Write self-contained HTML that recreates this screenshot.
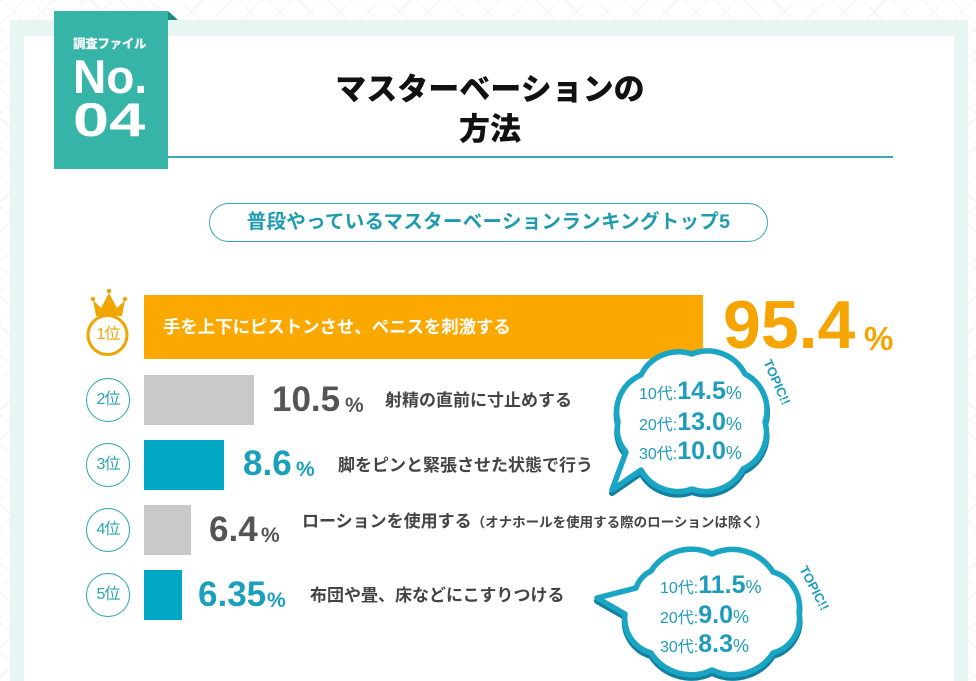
<!DOCTYPE html>
<html><head><meta charset="utf-8">
<style>
*{margin:0;padding:0;box-sizing:border-box}
html,body{width:976px;height:681px;overflow:hidden}
body{position:relative;background:#fff;
background-image:repeating-linear-gradient(45deg,transparent 0,transparent 20px,#eef3f3 20px,#eef3f3 21px),repeating-linear-gradient(-45deg,transparent 0,transparent 20px,#eef3f3 20px,#eef3f3 21px);
font-family:"Liberation Sans","Noto Sans CJK JP",sans-serif}
.a{position:absolute}
.jp{font-family:"Liberation Sans","Noto Sans CJK JP",sans-serif;white-space:nowrap}
.num{font-family:"Liberation Sans",sans-serif;font-weight:bold;white-space:nowrap;line-height:1}
.rk{position:absolute;width:44px;height:44px;border:1px solid #2aa3b5;border-radius:50%;color:#2aa3b5;font-size:16px;text-align:center;line-height:42px;background:#fff;letter-spacing:-1px}
.desc{position:absolute;font-size:17px;font-weight:bold;color:#444;white-space:nowrap;line-height:1}
</style></head><body>
<div class="a" style="left:10px;top:20px;width:958px;height:670px;background:#e7f5f3"></div>
<div class="a" style="left:24px;top:36px;width:930px;height:660px;background:#fff"></div>
<!-- teal label -->
<div class="a" style="left:54px;top:11px;width:114px;height:158px;background:#37b4a8"></div>
<svg class="a" style="left:160px;top:5px" width="24" height="20"><polygon points="8,6 18,15 8,15" fill="#1f8a80"/></svg>
<div class="a jp" style="left:73px;top:38px;font-size:12.5px;font-weight:900;color:#fff;line-height:1;letter-spacing:-0.3px">調査ファイル</div>
<div class="a num" style="left:73px;top:53px;font-size:47px;color:#fff;transform:scaleX(0.98);transform-origin:left top">No.</div>
<div class="a num" style="left:73px;top:96px;font-size:47px;color:#fff;transform:scaleX(1.38);transform-origin:left top">04</div>
<!-- title -->
<div class="a jp" style="left:0;width:980px;top:70px;text-align:center;font-size:31px;font-weight:900;color:#111;line-height:40px">マスターベーションの<br>方法</div>
<div class="a" style="left:168px;top:156px;width:725px;height:2px;background:#3aa9b0"></div>
<!-- pill -->
<div class="a jp" style="left:209px;top:203px;width:559px;height:39px;border:1.5px solid #3aa5b5;border-radius:20px;text-align:center;line-height:36px;font-size:19.5px;font-weight:bold;color:#1f9bb0;letter-spacing:0.3px">普段やっているマスターベーションランキングトップ5</div>

<!-- row 1 -->
<svg class="a" style="left:80px;top:284px" width="60" height="80">
<polygon points="13,16 21,24 29,9 37,24 45,16 42,32 16,32" fill="#f0a500"/>
<circle cx="13" cy="15" r="2.2" fill="#f0a500"/><circle cx="29" cy="7" r="2.2" fill="#f0a500"/><circle cx="45" cy="15" r="2.2" fill="#f0a500"/>
<circle cx="27.5" cy="51" r="19.5" fill="#fff" stroke="#f0a500" stroke-width="3"/>
</svg>
<div class="a jp" style="left:87px;top:325px;width:42px;text-align:center;font-size:16px;color:#f0a500;line-height:20px;letter-spacing:-1px">1位</div>
<div class="a" style="left:144px;top:295px;width:559px;height:64px;background:#fba800"></div>
<div class="a jp" style="left:163px;top:317px;font-size:17.4px;font-weight:bold;color:#fff;line-height:20px">手を上下にピストンさせ、ペニスを刺激する</div>
<div class="a num" style="left:723px;top:291px;font-size:68px;color:#f6a500">95.4</div>
<div class="a num" style="left:864px;top:322px;font-size:33px;color:#f6a500">%</div>

<!-- row 2 -->
<div class="rk" style="left:86px;top:378px">2位</div>
<div class="a" style="left:144px;top:375px;width:110px;height:50px;background:#c9c9c9"></div>
<div class="a num" style="left:272px;top:382px;font-size:35px;color:#555">10.5</div>
<div class="a num" style="left:345px;top:395px;font-size:21px;color:#555">%</div>
<div class="desc" style="left:385px;top:392px">射精の直前に寸止めする</div>

<!-- row 3 -->
<div class="rk" style="left:86px;top:443px">3位</div>
<div class="a" style="left:144px;top:440px;width:80px;height:50px;background:#00a8c6"></div>
<div class="a num" style="left:243px;top:446px;font-size:35px;color:#1a9fbd">8.6</div>
<div class="a num" style="left:296px;top:459px;font-size:21px;color:#1a9fbd">%</div>
<div class="desc" style="left:338px;top:457px">脚をピンと緊張させた状態で行う</div>

<!-- row 4 -->
<div class="rk" style="left:86px;top:508px">4位</div>
<div class="a" style="left:144px;top:505px;width:47px;height:50px;background:#c9c9c9"></div>
<div class="a num" style="left:209px;top:512px;font-size:35px;color:#555">6.4</div>
<div class="a num" style="left:261px;top:525px;font-size:21px;color:#555">%</div>
<div class="desc" style="left:302px;top:513px">ローションを使用する<span style="font-size:13.5px">（オナホールを使用する際のローションは除く）</span></div>

<!-- row 5 -->
<div class="rk" style="left:86px;top:573px">5位</div>
<div class="a" style="left:144px;top:570px;width:38px;height:50px;background:#00a8c6"></div>
<div class="a num" style="left:198px;top:577px;font-size:35px;color:#1a9fbd">6.35</div>
<div class="a num" style="left:267px;top:590px;font-size:21px;color:#1a9fbd">%</div>
<div class="desc" style="left:310px;top:587px">布団や畳、床などにこすりつける</div>

<!-- clouds -->
<svg class="a" style="left:0;top:0" width="976" height="681">
<g fill="#fff" stroke-linejoin="round">
<path transform="translate(0,3)" stroke="#127f9c" stroke-width="6" d="M692 354 A42 42 0 0 1 745 374 A40 40 0 0 1 765 422 A40 40 0 0 1 743 469 A42 42 0 0 1 692 489 A42 42 0 0 1 641 470 L612 490 L626 452 A34 34 0 0 1 618 422 A40 40 0 0 1 641 375 A42 42 0 0 1 692 354 Z"/>
<path stroke="#1aa5c4" stroke-width="5.5" d="M692 354 A42 42 0 0 1 745 374 A40 40 0 0 1 765 422 A40 40 0 0 1 743 469 A42 42 0 0 1 692 489 A42 42 0 0 1 641 470 L612 490 L626 452 A34 34 0 0 1 618 422 A40 40 0 0 1 641 375 A42 42 0 0 1 692 354 Z"/>
<path transform="translate(0,3)" stroke="#127f9c" stroke-width="6" d="M712 554 A48 48 0 0 1 773 572 A36 36 0 0 1 799 612 A36 36 0 0 1 773 653 A48 48 0 0 1 712 670 A48 48 0 0 1 651 653 A36 36 0 0 1 625 614 L597 598 L636 588 A30 30 0 0 1 651 571 A48 48 0 0 1 712 554 Z"/>
<path stroke="#1aa5c4" stroke-width="5.5" d="M712 554 A48 48 0 0 1 773 572 A36 36 0 0 1 799 612 A36 36 0 0 1 773 653 A48 48 0 0 1 712 670 A48 48 0 0 1 651 653 A36 36 0 0 1 625 614 L597 598 L636 588 A30 30 0 0 1 651 571 A48 48 0 0 1 712 554 Z"/>
</g>
<g font-family="Liberation Sans, Noto Sans CJK JP, sans-serif" fill="#1e9cbb">
<text x="639" y="399" font-size="16">10代:<tspan font-size="25" font-weight="bold">14.5</tspan><tspan font-size="18">%</tspan></text>
<text x="639" y="430" font-size="16">20代:<tspan font-size="25" font-weight="bold">13.0</tspan><tspan font-size="18">%</tspan></text>
<text x="639" y="459" font-size="16">30代:<tspan font-size="25" font-weight="bold">10.0</tspan><tspan font-size="18">%</tspan></text>
<text x="660" y="593" font-size="16">10代:<tspan font-size="25" font-weight="bold">11.5</tspan><tspan font-size="18">%</tspan></text>
<text x="660" y="623" font-size="16">20代:<tspan font-size="25" font-weight="bold">9.0</tspan><tspan font-size="18">%</tspan></text>
<text x="660" y="652" font-size="16">30代:<tspan font-size="25" font-weight="bold">8.3</tspan><tspan font-size="18">%</tspan></text>
<text transform="translate(763,362) rotate(66)" font-size="13" font-weight="bold">TOPIC!!</text>
<text transform="translate(799,569) rotate(62)" font-size="13" font-weight="bold">TOPIC!!</text>
</g>
</svg>
</body></html>
